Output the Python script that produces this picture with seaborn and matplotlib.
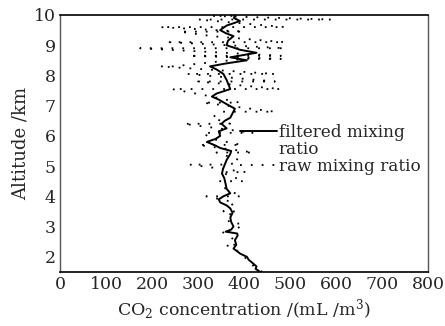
import matplotlib
matplotlib.use("Agg")
import matplotlib.pyplot as plt
from matplotlib.lines import Line2D
import seaborn as sns

# filtered mixing ratio profile (altitude km, CO2 mL/m3)
filt_alt = [1.5, 1.6, 1.68, 1.8, 1.9, 2.0, 2.1, 2.27, 2.4, 2.55, 2.7, 2.77, 2.83, 2.9, 3.0,
            3.15, 3.3, 3.45, 3.6, 3.7, 3.8, 3.9, 4.0, 4.1, 4.25, 4.4, 4.6, 4.75, 4.9, 5.05,
            5.2, 5.3, 5.4, 5.5, 5.6, 5.7, 5.8, 5.9, 6.0, 6.15, 6.25, 6.4, 6.5, 6.6, 6.75,
            6.9, 7.05, 7.2, 7.3, 7.4, 7.55, 7.7, 7.85, 8.05, 8.2, 8.3, 8.4, 8.5, 8.6, 8.75,
            8.85, 9.0, 9.15, 9.3, 9.4, 9.5, 9.65, 9.8, 9.9, 10.0]
filt_co2 = [435, 425, 427, 418, 410, 406, 392, 377, 383, 380, 386, 385, 360, 372, 377,
            372, 370, 375, 370, 362, 348, 345, 355, 370, 362, 360, 357, 352, 354, 358,
            362, 366, 370, 372, 348, 335, 319, 338, 348, 345, 362, 351, 358, 370, 375,
            380, 362, 345, 330, 340, 370, 366, 362, 355, 340, 326, 362, 406, 370, 427,
            391, 362, 365, 377, 360, 348, 362, 391, 378, 380]

# raw mixing ratio profile
raw_alt = [1.5, 1.6, 1.8, 2.0, 2.2, 2.4, 2.4, 2.6, 2.85, 2.85, 3.1, 3.1, 3.35, 3.5, 3.5,
           3.8, 4.0, 4.0, 4.25, 4.5, 4.5, 4.8, 4.8, 5.05, 5.05, 5.2, 5.45, 5.45, 5.7, 5.7,
           5.9, 6.1, 6.1, 6.4, 6.4, 6.6, 6.8, 6.8, 7.1, 7.1, 7.3, 7.55, 7.55, 7.8, 7.8,
           8.05, 8.05, 8.3, 8.3, 8.55, 8.55, 8.65, 8.65, 8.9, 8.9, 9.1, 9.1, 9.3, 9.45,
           9.45, 9.6, 9.6, 9.85, 9.85, 9.97, 9.97]
raw_co2 = [440, 425, 415, 400, 385, 360, 385, 375, 350, 380, 398, 370, 360, 385, 355,
           380, 318, 395, 360, 345, 400, 350, 405, 282, 370, 390, 340, 420, 300, 395,
           330, 310, 420, 268, 370, 330, 350, 467, 310, 390, 330, 243, 480, 300, 467,
           277, 467, 217, 246, 400, 480, 280, 480, 174, 489, 238, 489, 330, 260, 400,
           217, 489, 300, 590, 330, 390]

sns.set_style("white")
plt.rcParams["font.family"] = ["DejaVu Serif"]
plt.rcParams["mathtext.fontset"] = "dejavuserif"

fig = plt.figure(figsize=(4.45, 3.26), dpi=100)
ax = fig.add_axes([0.135, 0.166, 0.827, 0.788])

sns.lineplot(x=filt_co2, y=filt_alt, sort=False, estimator=None, ax=ax,
             color="black", lw=1.4)
sns.lineplot(x=raw_co2, y=raw_alt, sort=False, estimator=None, ax=ax,
             color="black", lw=1.3)
ax.lines[1].set_dashes([1.0, 5.0])

ax.set_xlim(0, 800)
ax.set_ylim(1.5, 10)
ax.set_xticks(range(0, 801, 100))
ax.set_yticks(range(2, 11))
ax.tick_params(direction="in", length=3, labelsize=12.5, pad=3)
ax.set_xlabel("CO$_2$ concentration /(mL /m$^3$)", fontsize=12.5, labelpad=3)
ax.set_ylabel("Altitude /km", fontsize=13, labelpad=3)

for side in ["bottom", "top"]:
    ax.spines[side].set_color("black")
    ax.spines[side].set_linewidth(1.2)
for side in ["left", "right"]:
    ax.spines[side].set_color("#555555")
    ax.spines[side].set_linewidth(1.0)

# legend: second label row "ratio" belongs to the filtered entry
blank = Line2D([], [], color="none")
ax.legend([ax.lines[0], blank, ax.lines[1]],
          ["filtered mixing", "ratio", "raw mixing ratio"],
          loc="upper left", bbox_to_anchor=(0.465, 0.61), frameon=False,
          fontsize=12.2, handlelength=2.2, handletextpad=0.1, labelspacing=0.0,
          borderpad=0)

fig.savefig("out.png", dpi=100)
